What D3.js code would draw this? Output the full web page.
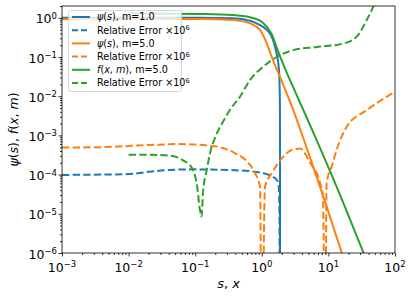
<!DOCTYPE html>
<html>
<head>
<meta charset="utf-8">
<script src="https://cdn.jsdelivr.net/npm/d3@7"></script>
<style>
    body { margin: 0; background: #fff; }
    svg { display: block; font-family: 'DejaVu Sans', sans-serif; }
</style>
</head>
<body>
<svg id="chart" width="415" height="298"></svg>
<script>
// psi(s), m=1.0
const blueS = [1e-3, 0.118, 0.369, 0.665, 0.94, 1.19, 1.41, 1.58, 1.71, 1.81, 1.86, 1.875, 1.88];
const blueV = [1.0, 1.0, 0.97, 0.84, 0.65, 0.49, 0.33, 0.18, 0.10, 0.047, 0.012, 0.003, 1e-9];

// relative error x1e6, m=1.0
const blueErrS = [1e-3, 0.01, 0.02, 0.04, 0.099, 0.318, 0.80, 1.27, 1.69, 1.80, 1.84, 1.87];
const blueErrV = [9.8e-5, 1.03e-4, 1.18e-4, 1.31e-4, 1.36e-4, 1.31e-4, 1.18e-4, 9.8e-5, 7.2e-5, 4.9e-5, 1e-5, 1e-9];

// psi(s), m=5.0
const orangeS = [1e-3, 0.118, 0.369, 0.665, 0.94, 1.19, 1.41, 1.875, 2.97, 4.72, 15.9, 20];
const orangeV = [0.93, 0.93, 0.88, 0.72, 0.49, 0.22, 0.10, 0.031, 4.4e-3, 4.8e-4, 1e-6, 3e-7];

// relative error x1e6, m=5.0
const orangeErrS = [1e-3, 0.0037, 0.021, 0.056, 0.179, 0.398, 0.636, 0.79, 0.94, 1.0, 1.117, 1.42,
    2.01, 2.84, 3.75, 5.3, 7.5, 8.3, 8.9, 9.4, 11.2, 13.3, 18.8, 37.6, 100];
const orangeErrV = [4.9e-4, 5.0e-4, 5.7e-4, 6.0e-4, 5.4e-4, 3.5e-4, 1.95e-4, 1.1e-4, 4.9e-5, 1e-9, 4.9e-5, 1.1e-4,
    2.6e-4, 4.3e-4, 4.6e-4, 2.0e-4, 6.1e-5, 2.7e-5, 1e-9, 6.1e-5, 1.6e-4, 4.3e-4, 1.66e-3, 4.4e-3, 0.013];

// f(x, m), m=5.0
const greenX = [0.01, 0.118, 0.369, 0.665, 1.04, 1.41, 1.68, 2.10, 2.65, 3.34, 5.0, 7.48, 15, 33, 40];
const greenV = [1.3, 1.25, 1.18, 1.03, 0.75, 0.38, 0.17, 0.065, 0.0256, 0.0107, 2.3e-3, 4.8e-4, 3e-5, 1.1e-6, 5e-7];

// relative error x1e6, f(x, m)
const greenErrX = [0.01, 0.021, 0.045, 0.071, 0.0836, 0.1053, 0.118, 0.1245, 0.131, 0.149, 0.167, 0.20,
    0.268, 0.333, 0.471, 0.665, 1.055, 1.675, 2.97, 6.67, 16.7, 26.6, 37.6, 47.2, 55];
const greenErrV = [3.2e-4, 3.2e-4, 3.0e-4, 2.14e-4, 1.76e-4, 6.0e-5, 1.25e-5, 8.5e-6, 3.5e-5, 1.3e-4, 3.5e-4, 9e-4,
    2.4e-3, 4.5e-3, 9.7e-3, 0.026, 0.057, 0.10, 0.15, 0.18, 0.22, 0.33, 0.88, 1.92, 3.5];

// tick labels
const xTickExps = [-3, -2, -1, 0, 1, 2];
const yTickExps = [-6, -5, -4, -3, -2, -1, 0];

const legendLabels = [
    [['ψ', true], ['(', false], ['s', true], ['), m=1.0', false]],
    [['Relative Error ×10', false], ['6', false, true]],
    [['ψ', true], ['(', false], ['s', true], ['), m=5.0', false]],
    [['Relative Error ×10', false], ['6', false, true]],
    [['f', true], ['(', false], ['x', true], [', ', false], ['m', true], ['), m=5.0', false]],
    [['Relative Error ×10', false], ['6', false, true]]
];

const colors = ['#1f77b4', '#1f77b4', '#ff7f0e', '#ff7f0e', '#2ca02c', '#2ca02c'];
const dashed = [false, true, false, true, false, true];

// Layout
const plotLeft = 62, plotRight = 395, plotTop = 6, plotBottom = 253;

const svg = d3.select('#chart');

const x = d3.scaleLog().domain([1e-3, 1e2]).range([plotLeft, plotRight]);
const y = d3.scaleLog().domain([1e-6, 2]).range([plotBottom, plotTop]);

svg.append('defs').append('clipPath').attr('id', 'plot-clip')
    .append('rect')
    .attr('x', plotLeft).attr('y', plotTop)
    .attr('width', plotRight - plotLeft).attr('height', plotBottom - plotTop);

// Series
const seriesData = [
    d3.zip(blueS, blueV),
    d3.zip(blueErrS, blueErrV),
    d3.zip(orangeS, orangeV),
    d3.zip(orangeErrS, orangeErrV),
    d3.zip(greenX, greenV),
    d3.zip(greenErrX, greenErrV)
];

const line = d3.line()
    .x(d => x(d[0]))
    .y(d => y(d[1]))
    .curve(d3.curveMonotoneX);

svg.append('g')
    .attr('clip-path', 'url(#plot-clip)')
    .selectAll('path')
    .data(seriesData)
    .enter()
    .append('path')
    .attr('d', line)
    .attr('fill', 'none')
    .attr('stroke', (d, i) => colors[i])
    .attr('stroke-width', 2)
    .attr('stroke-dasharray', (d, i) => dashed[i] ? '7.4,3.2' : null);

// Minor tick values for a log axis
function minorTicks(lo, hi) {
    const out = [];
    for (let e = lo; e < hi; e++) {
        for (let k = 2; k <= 9; k++) out.push(k * Math.pow(10, e));
    }
    return out;
}

// Axes (ticks only, labels drawn separately)
svg.append('g')
    .attr('transform', `translate(0,${plotBottom})`)
    .call(d3.axisBottom(x).tickValues(xTickExps.map(e => Math.pow(10, e))).tickSize(3.5).tickFormat(''))
    .call(g => g.select('.domain').remove());

svg.append('g')
    .attr('transform', `translate(0,${plotBottom})`)
    .call(d3.axisBottom(x).tickValues(minorTicks(-3, 2)).tickSize(2).tickFormat(''))
    .call(g => g.select('.domain').remove());

svg.append('g')
    .attr('transform', `translate(${plotLeft},0)`)
    .call(d3.axisLeft(y).tickValues(yTickExps.map(e => Math.pow(10, e))).tickSize(3.5).tickFormat(''))
    .call(g => g.select('.domain').remove());

svg.append('g')
    .attr('transform', `translate(${plotLeft},0)`)
    .call(d3.axisLeft(y).tickValues(minorTicks(-6, 1).filter(v => v <= 2)).tickSize(2).tickFormat(''))
    .call(g => g.select('.domain').remove());

svg.selectAll('.tick line').attr('stroke', '#000').attr('stroke-width', 0.8);

// Power-of-ten label
function powerLabel(sel, exp) {
    sel.append('tspan').text('10');
    sel.append('tspan')
        .attr('dy', -4.5)
        .attr('font-size', 8.5)
        .text(exp < 0 ? '\u2212' + Math.abs(exp) : String(exp));
}

svg.append('g')
    .selectAll('text')
    .data(xTickExps)
    .enter()
    .append('text')
    .attr('x', d => x(Math.pow(10, d)))
    .attr('y', 271.5)
    .attr('text-anchor', 'middle')
    .attr('font-size', 12.5)
    .each(function(d) { powerLabel(d3.select(this), d); });

svg.append('g')
    .selectAll('text')
    .data(yTickExps)
    .enter()
    .append('text')
    .attr('x', 57)
    .attr('y', d => y(Math.pow(10, d)) + 5.5)
    .attr('text-anchor', 'end')
    .attr('font-size', 12.5)
    .each(function(d) { powerLabel(d3.select(this), d); });

// Frame
svg.append('rect')
    .attr('x', plotLeft).attr('y', plotTop)
    .attr('width', plotRight - plotLeft).attr('height', plotBottom - plotTop)
    .attr('fill', 'none')
    .attr('stroke', '#000')
    .attr('stroke-width', 0.8);

// Mixed italic / upright text
function richText(sel, parts, supSize) {
    parts.forEach(p => {
        const t = sel.append('tspan').text(p[0]);
        if (p[1]) t.attr('font-style', 'italic');
        if (p[2]) t.attr('dy', -3.5).attr('font-size', supSize);
    });
}

// Axis labels
svg.append('text')
    .attr('x', (plotLeft + plotRight) / 2)
    .attr('y', 288)
    .attr('text-anchor', 'middle')
    .attr('font-size', 13)
    .call(richText, [['s', true], [', ', false], ['x', true]]);

svg.append('text')
    .attr('transform', `translate(18,${(plotTop + plotBottom) / 2}) rotate(-90)`)
    .attr('text-anchor', 'middle')
    .attr('font-size', 12.5)
    .call(richText, [['ψ', true], ['(', false], ['s', true], ['), ', false],
        ['f', true], ['(', false], ['x', true], [', ', false], ['m', true], [')', false]]);

// Legend
const legend = svg.append('g');

legend.append('rect')
    .attr('x', 68.5).attr('y', 10.5)
    .attr('width', 113).attr('height', 81)
    .attr('rx', 2)
    .attr('fill', '#fff')
    .attr('fill-opacity', 0.8)
    .attr('stroke', '#cccccc')
    .attr('stroke-width', 0.8);

legendLabels.forEach((parts, i) => {
    const cy = 17 + i * 13.2;
    legend.append('line')
        .attr('x1', 72).attr('x2', 90)
        .attr('y1', cy).attr('y2', cy)
        .attr('stroke', colors[i])
        .attr('stroke-width', 2)
        .attr('stroke-dasharray', dashed[i] ? '6,3' : null);
    legend.append('text')
        .attr('x', 97)
        .attr('y', cy + 3.4)
        .attr('font-size', 9.6)
        .call(richText, parts, 6.8);
});
</script>
</body>
</html>
